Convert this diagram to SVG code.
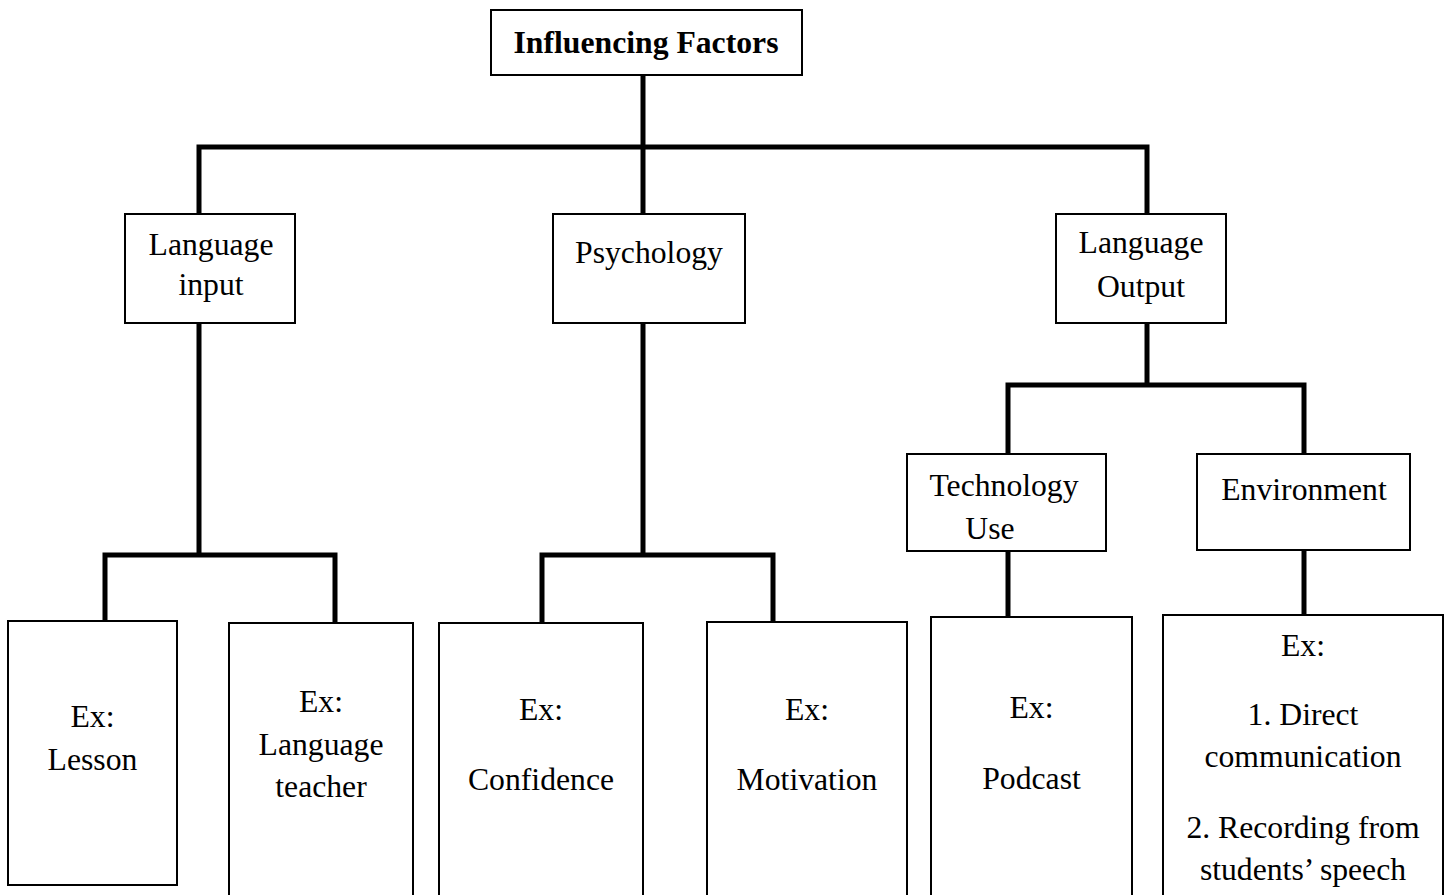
<svg xmlns="http://www.w3.org/2000/svg" width="1449" height="895" viewBox="0 0 1449 895">
<style>
  .box { fill: #fff; stroke: #000; stroke-width: 2; }
  .t { font-family: "Liberation Serif", "Times New Roman", serif; font-size: 31.7px; fill: #000; text-anchor: middle; }
  .b { font-weight: bold; }
  .ln { fill: none; stroke: #000; stroke-width: 5; stroke-linejoin: miter; stroke-linecap: butt; }
</style>
<rect x="0" y="0" width="1449" height="895" fill="#fff"/>
<g id="connectors">
  <path class="ln" d="M643,75 V147"/>
  <path class="ln" d="M199,214 V147 H1147 V214"/>
  <path class="ln" d="M643,147 V214"/>
  <path class="ln" d="M199,323 V555"/>
  <path class="ln" d="M105,621 V555 H335 V623"/>
  <path class="ln" d="M643,323 V555"/>
  <path class="ln" d="M542,623 V555 H773 V623"/>
  <path class="ln" d="M1147,323 V385"/>
  <path class="ln" d="M1008,454 V385 H1304 V454"/>
  <path class="ln" d="M1008,551 V617"/>
  <path class="ln" d="M1304,550 V615"/>
</g>
<g id="influencing-factors">
  <rect class="box" x="491" y="10" width="311" height="65"/>
  <text class="t b" x="646" y="53">Influencing Factors</text>
</g>
<g id="language-input">
  <rect class="box" x="125" y="214" width="170" height="109"/>
  <text class="t" x="211" y="255">Language</text>
  <text class="t" x="211" y="295">input</text>
</g>
<g id="psychology">
  <rect class="box" x="553" y="214" width="192" height="109"/>
  <text class="t" x="649" y="263">Psychology</text>
</g>
<g id="language-output">
  <rect class="box" x="1056" y="214" width="170" height="109"/>
  <text class="t" x="1141" y="253">Language</text>
  <text class="t" x="1141" y="297">Output</text>
</g>
<g id="technology-use">
  <rect class="box" x="907" y="454" width="199" height="97"/>
  <text class="t" x="1004" y="496">Technology</text>
  <text class="t" x="990" y="539">Use</text>
</g>
<g id="environment">
  <rect class="box" x="1197" y="454" width="213" height="96"/>
  <text class="t" x="1304" y="500">Environment</text>
</g>
<g id="ex-lesson">
  <rect class="box" x="8" y="621" width="169" height="264"/>
  <text class="t" x="92.5" y="727">Ex:</text>
  <text class="t" x="92.5" y="770">Lesson</text>
</g>
<g id="ex-language-teacher">
  <rect class="box" x="229" y="623" width="184" height="290"/>
  <text class="t" x="321" y="712">Ex:</text>
  <text class="t" x="321" y="755">Language</text>
  <text class="t" x="321" y="797">teacher</text>
</g>
<g id="ex-confidence">
  <rect class="box" x="439" y="623" width="204" height="290"/>
  <text class="t" x="541" y="720">Ex:</text>
  <text class="t" x="541" y="790">Confidence</text>
</g>
<g id="ex-motivation">
  <rect class="box" x="707" y="622" width="200" height="290"/>
  <text class="t" x="807" y="720">Ex:</text>
  <text class="t" x="807" y="790">Motivation</text>
</g>
<g id="ex-podcast">
  <rect class="box" x="931" y="617" width="201" height="290"/>
  <text class="t" x="1031.5" y="718">Ex:</text>
  <text class="t" x="1031.5" y="789">Podcast</text>
</g>
<g id="ex-environment">
  <rect class="box" x="1163" y="615" width="280" height="290"/>
  <text class="t" x="1303" y="656">Ex:</text>
  <text class="t" x="1303" y="725">1. Direct</text>
  <text class="t" x="1303" y="767">communication</text>
  <text class="t" x="1303" y="838">2. Recording from</text>
  <text class="t" x="1303" y="880">students’ speech</text>
</g>
</svg>
